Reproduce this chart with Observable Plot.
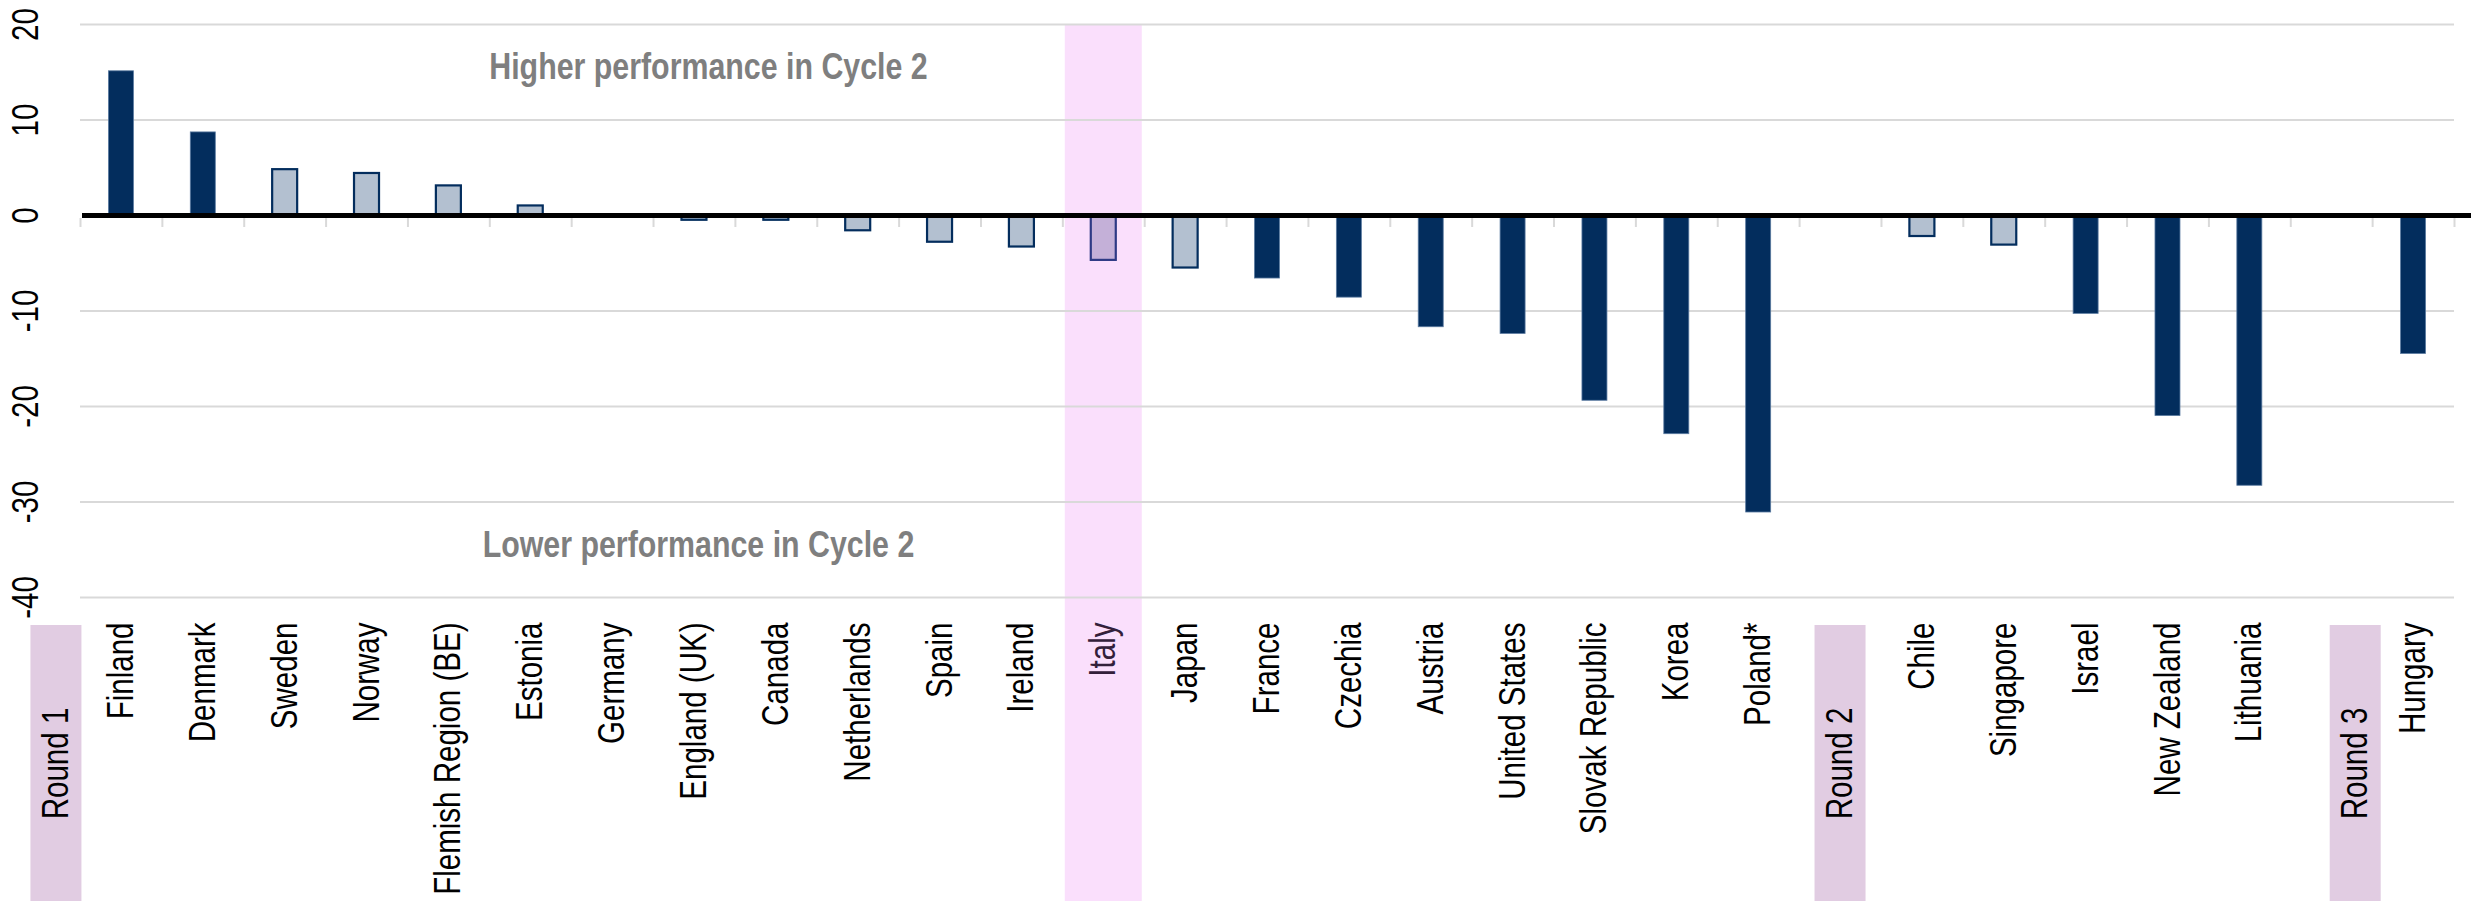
<!DOCTYPE html>
<html><head><meta charset="utf-8">
<script src="https://cdn.jsdelivr.net/npm/d3@7"></script>
<script src="https://cdn.jsdelivr.net/npm/@observablehq/plot@0.6"></script>
<style>html,body{margin:0;padding:0;background:#fff;overflow:hidden;}</style>
</head><body><div id="chart"></div>
<script>
// ---------- data ----------
const categories = ["Finland","Denmark","Sweden","Norway","Flemish Region (BE)","Estonia","Germany","England (UK)","Canada","Netherlands","Spain","Ireland","Italy","Japan","France","Czechia","Austria","United States","Slovak Republic","Korea","Poland*","Round 2","Chile","Singapore","Israel","New Zealand","Lithuania","Round 3","Hungary"];
const values = [15.1, 8.7, 4.8, 4.4, 3.1, 1.0, 0, -0.5, -0.5, -1.6, -2.8, -3.3, -4.7, -5.5, -6.6, -8.6, -11.7, -12.4, -19.4, -22.9, -31.1, null, -2.2, -3.1, -10.3, -21.0, -28.3, null, -14.5];
const status = ["sig","sig","ns","ns","ns","ns","ns","ns","ns","ns","ns","ns","focus","ns","sig","sig","sig","sig","sig","sig","sig","gap","ns","ns","sig","sig","sig","gap","sig"];
const roundLabels = ["Round 1","Round 2","Round 3"];
const yTicks = [20, 10, 0, -10, -20, -30, -40];
const gridValues = [20, 10, -10, -20, -30, -40];
const noteTexts = ["Higher performance in Cycle 2", "Lower performance in Cycle 2"];
const noteValues = [15.5, -34.5];
const highlightCountry = "Italy";

// ---------- layout / style ----------
const W = 2471, H = 901;
const mL = 80, mR = 17, mT = 24, mB = 304;
const step = (W - mL - mR) / categories.length;
const roundAnchors = ["Finland", "Round 2", "Round 3"];
const roundDx = [-65, 0, 24];
const noteAnchor = "England (UK)";
const noteDx = [14, 4];

function hasFont(name) {
  const c = document.createElement("canvas").getContext("2d");
  const s = "Flemish Region (BE) Higher performance 0123456789";
  c.font = "40px monospace"; const a = c.measureText(s).width;
  c.font = `40px "${name}", monospace`; const b = c.measureText(s).width;
  return Math.abs(a - b) > 0.5;
}
const narrow = hasFont("Liberation Sans Narrow");
const family = narrow ? '"Liberation Sans Narrow", "Arial Narrow", sans-serif' : '"Liberation Sans", Arial, sans-serif';
const fs = 36;
const fsNote = 37;

const rows = categories.map((c, i) => ({name: c, value: values[i], status: status[i]}));
const bars = rows.filter(d => d.status !== "gap");
const labelRows = rows.filter(d => d.status !== "gap");

const NAVY = "#032d5d", LIGHT = "#b3c0d0", FOCUS = "#c4b0d8", FOCUS_STROKE = "#2e3a85";
const barInset = (step - 25) / 2;

const marks = [
  // Italy highlight column
  Plot.cell([highlightCountry], {x: d => d, fill: "#fadffc", insetLeft: (step - 77) / 2, insetRight: (step - 77) / 2, insetBottom: -mB}),
  // round bands
  ...roundLabels.map((r, i) => Plot.cell([roundAnchors[i]], {x: d => d, dx: roundDx[i], fill: "#e1cce2", insetLeft: (step - 51) / 2, insetRight: (step - 51) / 2, insetTop: 601, insetBottom: -mB})),
  // gridlines
  Plot.ruleY(gridValues, {stroke: "#d9d9d9", strokeWidth: 2}),
  // bars
  Plot.barY(bars.filter(d => d.status === "sig"), {x: "name", y: "value", fill: NAVY, stroke: "#5a7aa0", strokeWidth: 0.8, insetLeft: barInset, insetRight: barInset}),
  Plot.barY(bars.filter(d => d.status === "ns"), {x: "name", y: "value", fill: LIGHT, stroke: NAVY, strokeWidth: 2.2, insetLeft: barInset, insetRight: barInset}),
  Plot.barY(bars.filter(d => d.status === "focus"), {x: "name", y: "value", fill: FOCUS, stroke: FOCUS_STROKE, strokeWidth: 2.2, insetLeft: barInset, insetRight: barInset}),
  // category boundary ticks
  Plot.ruleX(categories, {x: d => d, dx: -step / 2, y1: 0, y2: 0, insetTop: 3, insetBottom: -12, stroke: "#d9d9d9", strokeWidth: 2}),
  Plot.ruleX([categories[categories.length - 1]], {x: d => d, dx: step / 2, y1: 0, y2: 0, insetTop: 3, insetBottom: -12, stroke: "#d9d9d9", strokeWidth: 2}),
  // zero line
  Plot.ruleY([0], {stroke: "#000", strokeWidth: 5, insetLeft: 2, insetRight: -mR}),
  // y tick labels
  Plot.text(yTicks, {y: d => d, text: d => String(d), frameAnchor: "left", dx: -54, rotate: -90, textAnchor: "middle", lineAnchor: "middle", fontSize: fs, fill: "#000"}),
  // x labels
  Plot.text(labelRows.filter(d => d.name !== highlightCountry), {x: "name", text: "name", frameAnchor: "bottom", dy: 25, rotate: -90, textAnchor: "end", lineAnchor: "middle", fontSize: fs, fill: "#000"}),
  Plot.text(labelRows.filter(d => d.name === highlightCountry), {x: "name", text: "name", frameAnchor: "bottom", dy: 25, rotate: -90, textAnchor: "end", lineAnchor: "middle", fontSize: fs, fill: "#33203a"}),
  // round labels
  ...roundLabels.map((r, i) => Plot.text([r], {x: () => roundAnchors[i], text: d => d, dx: roundDx[i], frameAnchor: "bottom", dy: 166, rotate: -90, textAnchor: "middle", lineAnchor: "middle", fontSize: fs, fill: "#000"})),
  // notes
  ...noteTexts.map((t, i) => Plot.text([t], {x: () => noteAnchor, y: () => noteValues[i], text: d => d, dx: noteDx[i], textAnchor: "middle", lineAnchor: "middle", fontSize: fsNote, fontWeight: "bold", fill: "#7f7f7f"}))
];

const chart = Plot.plot({
  width: W, height: H,
  marginLeft: mL, marginRight: mR, marginTop: mT, marginBottom: mB,
  x: {type: "band", domain: categories, padding: 0, round: false, axis: null},
  y: {domain: [-40, 20], axis: null},
  style: {fontFamily: family, background: "#fff", overflow: "visible"},
  marks
});
document.getElementById("chart").appendChild(chart);

// Emulate a narrow typeface (Arial Narrow) when it is not installed
if (!narrow) {
  chart.querySelectorAll("text").forEach(t => {
    const len = t.getComputedTextLength();
    if (len > 0) {
      t.setAttribute("textLength", (len * 0.82).toFixed(2));
      t.setAttribute("lengthAdjust", "spacingAndGlyphs");
    }
  });
}
</script>
</body></html>
